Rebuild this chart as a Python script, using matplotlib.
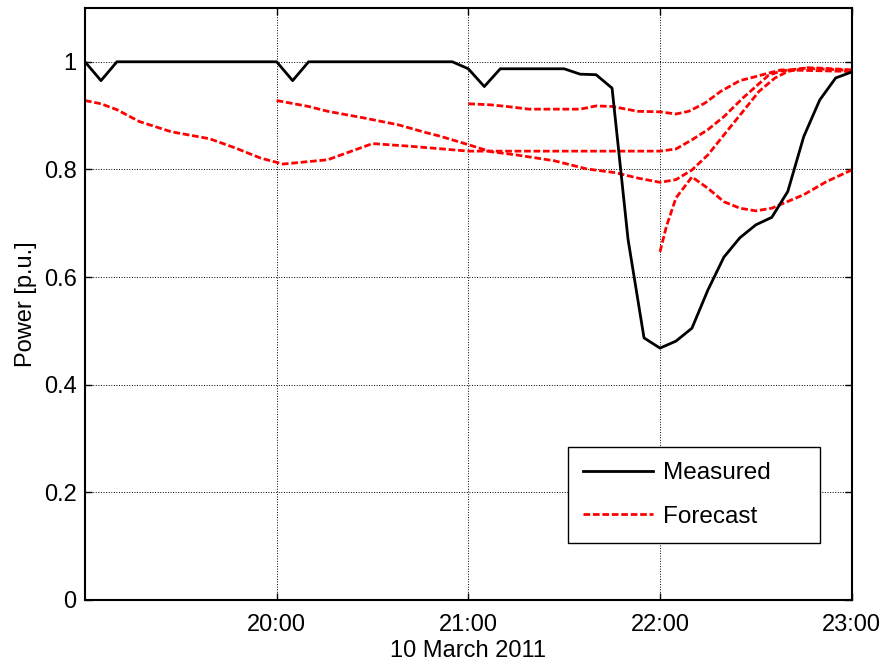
import numpy as np
import pandas as pd
import matplotlib
matplotlib.use('Agg')
import matplotlib.pyplot as plt

plt.rcParams['font.family'] = ['Liberation Sans', 'DejaVu Sans']

# ---------------- data (minutes after 19:00, values in p.u.) ----------------
start = pd.Timestamp('2011-03-10 19:00')

meas_t = np.arange(0, 241, 5)
meas_v = [1.0, 0.965, 1.0, 1.0, 1.0, 1.0, 1.0, 1.0, 1.0, 1.0, 1.0, 1.0,
          1.0, 0.965, 1.0, 1.0, 1.0, 1.0, 1.0, 1.0, 1.0, 1.0, 1.0, 1.0,
          0.987, 0.954, 0.987, 0.987, 0.987, 0.987, 0.987, 0.977, 0.976, 0.951,
          0.67, 0.487, 0.468, 0.481, 0.505, 0.576, 0.637, 0.673, 0.697, 0.711,
          0.759, 0.861, 0.929, 0.970, 0.981]

fc19_t = [0, 5, 10, 17, 27, 39, 47, 55, 62, 76, 90, 102, 112, 120, 180,
          185, 190, 195, 200, 206, 210, 214, 218, 225, 240]
fc19_v = [0.928, 0.922, 0.911, 0.889, 0.870, 0.857, 0.840, 0.821, 0.810, 0.818,
          0.848, 0.843, 0.838, 0.834, 0.834, 0.838, 0.855, 0.874, 0.898, 0.933,
          0.954, 0.975, 0.983, 0.988, 0.984]

fc20_t = [60, 70, 76, 87, 98, 107, 111, 120, 127, 135, 147, 157, 166, 173, 180,
          185, 190, 195, 200, 206, 211, 216, 220, 226, 231, 240]
fc20_v = [0.928, 0.917, 0.908, 0.896, 0.883, 0.868, 0.862, 0.846, 0.833, 0.827,
          0.816, 0.801, 0.794, 0.784, 0.776, 0.781, 0.799, 0.827, 0.864, 0.908,
          0.945, 0.970, 0.982, 0.989, 0.988, 0.985]

fc21_t = [120, 127, 132, 139, 155, 160, 165, 173, 180, 185, 189, 194, 199,
          205, 209, 214, 218, 240]
fc21_v = [0.922, 0.920, 0.917, 0.912, 0.912, 0.918, 0.917, 0.908, 0.907, 0.903,
          0.908, 0.923, 0.945, 0.965, 0.971, 0.979, 0.985, 0.982]

fc22_t = [180, 182, 185, 190, 195, 200, 205, 210, 215, 225, 232, 240]
fc22_v = [0.647, 0.694, 0.747, 0.786, 0.765, 0.740, 0.728, 0.723, 0.728,
          0.753, 0.777, 0.799]

fc23_t = [240, 245]
fc23_v = [0.948, 0.950]

forecasts = [(fc19_t, fc19_v), (fc20_t, fc20_v), (fc21_t, fc21_v),
             (fc22_t, fc22_v), (fc23_t, fc23_v)]

xtick_min = [60, 120, 180, 240]
xtick_labels = ['20:00', '21:00', '22:00', '23:00']
ytick_vals = [0, 0.2, 0.4, 0.6, 0.8, 1.0]
ytick_labels = ['0', '0.2', '0.4', '0.6', '0.8', '1']


def to_time(mins):
    return [start + pd.Timedelta(minutes=int(m)) for m in mins]


# ---------------- plot ----------------
fig = plt.figure(figsize=(8.89, 6.64), dpi=100)
ax = fig.add_axes([0.0956, 0.0964, 0.8624, 0.8916])

ax.plot(to_time(meas_t), meas_v, color='black', lw=2, label='Measured', zorder=3)
for i, (t, v) in enumerate(forecasts):
    ax.plot(to_time(t), v, color='red', lw=2, dashes=(2.4, 1.0),
            label='Forecast' if i == 0 else '_nolegend_', zorder=2)

ax.set_xlim(start, start + pd.Timedelta(minutes=240))
ax.set_ylim(0, 1.1)
ax.set_xticks(to_time(xtick_min))
ax.set_xticklabels(xtick_labels)
ax.set_yticks(ytick_vals)
ax.set_yticklabels(ytick_labels)

ax.grid(True, color='black', linestyle=':', lw=0.7)
ax.tick_params(direction='in', top=True, right=True, length=5, width=1,
               labelsize=17)
ax.tick_params(axis='x', pad=10)
ax.tick_params(axis='y', pad=6)
for sp in ax.spines.values():
    sp.set_linewidth(1.5)

ax.set_xlabel('10 March 2011', fontsize=17, labelpad=3)
ax.set_ylabel('Power [p.u.]', fontsize=17, labelpad=5)

# Matlab-style legend box: wider than its contents
leg = ax.legend(loc='lower left', bbox_to_anchor=(0.6297, 0.0963, 0.3286, 0.16),
                bbox_transform=ax.transAxes, borderaxespad=0, mode='expand',
                fontsize=17.5, handlelength=2.9, handletextpad=0.4,
                labelspacing=0.9, borderpad=0.62, fancybox=False,
                framealpha=1, edgecolor='black')
leg.get_frame().set_linewidth(1.0)

fig.savefig('out.png', dpi=100)
